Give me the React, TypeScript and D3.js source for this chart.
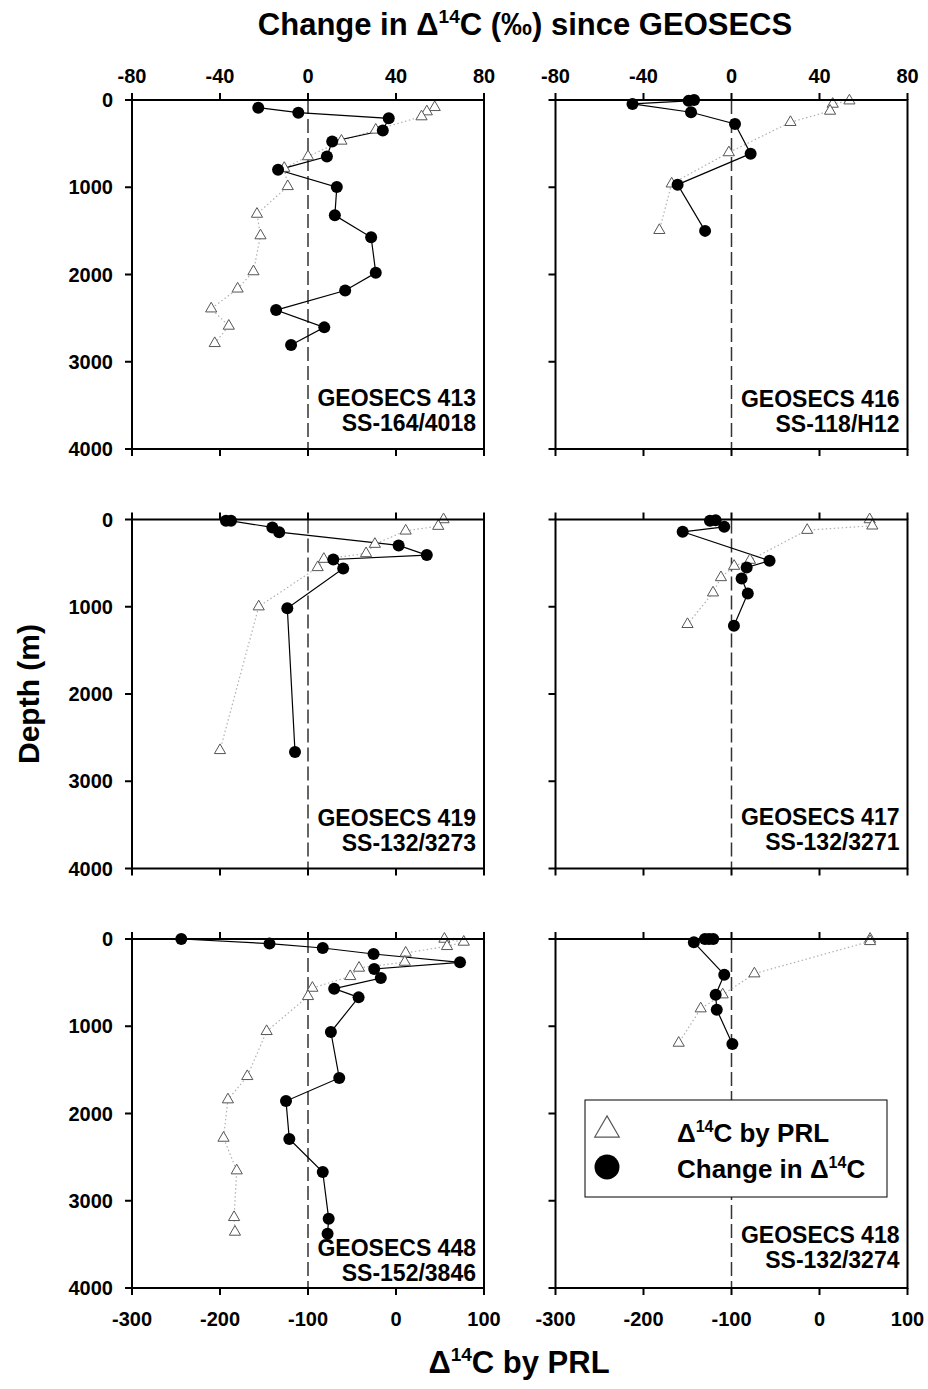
import React from "react";
import * as d3 from "d3";

// axis ticks
const chgTicks = [-80, -40, 0, 40, 80];
const prlTicks = [-300, -200, -100, 0, 100];
const depthTicks = [0, 1000, 2000, 3000, 4000];

// GEOSECS 413 / SS-164/4018
const s413PrlDepth = [84, 133, 190, 343, 469, 648, 781, 990, 1307, 1554, 1966, 2164, 2392, 2590, 2789];
const s413Prl = [44, 35, 29, -23, -62, -100, -127, -123, -158, -154, -162, -180, -210, -190, -206];
const s413ChgDepth = [88, 145, 210, 350, 476, 648, 800, 998, 1322, 1573, 1981, 2183, 2408, 2606, 2808];
const s413Chg = [-22.6, -4.4, 36.7, 34, 11, 8.6, -13.6, 13.1, 12.2, 28.7, 30.8, 16.9, -14.5, 7.4, -7.7];

// GEOSECS 416 / SS-118/H12
const s416PrlDepth = [8, 46, 126, 255, 602, 960, 1493];
const s416Prl = [34, 15, 12, -33, -103, -168, -182];
const s416ChgDepth = [0, 10, 45, 140, 275, 615, 970, 1500];
const s416Chg = [-17, -19.5, -45, -18.4, 1.6, 8.7, -24.5, -12];

// GEOSECS 419 / SS-132/3273
const s419PrlDepth = [0, 76, 130, 282, 389, 454, 549, 999, 2646];
const s419Prl = [54, 48, 11, -24, -34, -82, -89, -156, -200];
const s419ChgDepth = [15, 15, 91, 145, 297, 408, 458, 561, 1018, 2665];
const s419Chg = [-37.3, -35, -16.2, -13.1, 41.2, 54, 11.5, 16, -9.4, -5.9];

// GEOSECS 417 / SS-132/3271
const s417PrlDepth = [0, 72, 122, 465, 534, 664, 839, 1201];
const s417Prl = [57, 60, -14, -79, -97, -112, -121, -150];
const s417ChgDepth = [8, 15, 84, 141, 473, 549, 675, 847, 1217];
const s417Chg = [-7.2, -9.8, -3.3, -22.2, 17.3, 6.9, 4.6, 7.4, 1.1];

// GEOSECS 448 / SS-152/3846
const s448PrlDepth = [0, 34, 84, 160, 264, 332, 428, 562, 657, 1058, 1574, 1841, 2281, 2655, 3190, 3358];
const s448Prl = [55, 77, 58, 11, 10, -42, -52, -95, -100, -147, -169, -191, -196, -181, -184, -183];
const s448ChgDepth = [0, 53, 103, 172, 267, 344, 447, 569, 669, 1066, 1593, 1857, 2292, 2670, 3205, 3377];
const s448Chg = [-57.6, -17.5, 6.7, 29.8, 69.1, 30.1, 33.1, 11.9, 23, 10.4, 14.2, -10, -8.5, 6.7, 9.4, 8.9];

// GEOSECS 418 / SS-132/3274
const s418PrlDepth = [0, 27, 397, 638, 798, 1192];
const s418Prl = [57.5, 57.5, -74, -110, -135, -160];
const s418ChgDepth = [0, 0, 0, 38, 409, 638, 810, 1203];
const s418Chg = [-8.3, -10.2, -12.1, -17.1, -3.3, -7.2, -6.7, 0.4];

const stationNames = ["GEOSECS 413", "GEOSECS 416", "GEOSECS 419", "GEOSECS 417", "GEOSECS 448", "GEOSECS 418"];
const cruiseNames = ["SS-164/4018", "SS-118/H12", "SS-132/3273", "SS-132/3271", "SS-152/3846", "SS-132/3274"];

const FONT = "'Liberation Sans', Arial, sans-serif";
const W = 352;
const H = 349;
const colX = [132, 555.5];
const rowY = [100, 519.5, 939];

const panels = [
  { prlDepth: s413PrlDepth, prl: s413Prl, chgDepth: s413ChgDepth, chg: s413Chg, labelY: 306 },
  { prlDepth: s416PrlDepth, prl: s416Prl, chgDepth: s416ChgDepth, chg: s416Chg, labelY: 307 },
  { prlDepth: s419PrlDepth, prl: s419Prl, chgDepth: s419ChgDepth, chg: s419Chg, labelY: 306 },
  { prlDepth: s417PrlDepth, prl: s417Prl, chgDepth: s417ChgDepth, chg: s417Chg, labelY: 305 },
  { prlDepth: s448PrlDepth, prl: s448Prl, chgDepth: s448ChgDepth, chg: s448Chg, labelY: 317 },
  { prlDepth: s418PrlDepth, prl: s418Prl, chgDepth: s418ChgDepth, chg: s418Chg, labelY: 304 },
];

const xChg = d3.scaleLinear().domain([-80, 80]).range([0, W]);
const xPrl = d3.scaleLinear().domain([-300, 100]).range([0, W]);
const yDepth = d3.scaleLinear().domain([0, 4000]).range([0, H]);

const triSmall = d3.symbol(d3.symbolTriangle, 54)()!;
const triBig = d3.symbol(d3.symbolTriangle, 260)()!;

function Panel({ i }: { i: number }) {
  const p = panels[i];
  const row = Math.floor(i / 2);
  const col = i % 2;
  const prlPts: [number, number][] = p.prl.map((v, k) => [xPrl(v), yDepth(p.prlDepth[k])]);
  const chgPts: [number, number][] = p.chg.map((v, k) => [xChg(v), yDepth(p.chgDepth[k])]);
  const line = d3.line();
  return (
    <g transform={`translate(${colX[col]},${rowY[row]})`}>
      <line x1={xChg(0)} x2={xChg(0)} y1={0} y2={H} stroke="#333" strokeWidth={1.5} strokeDasharray="14,5" />
      <path d={line(prlPts)!} fill="none" stroke="#b0b0b0" strokeWidth={1.2} strokeDasharray="1.5,2.5" />
      <path d={line(chgPts)!} fill="none" stroke="#000" strokeWidth={1.2} />
      {prlPts.map((pt, k) => (
        <path key={"t" + k} d={triSmall} transform={`translate(${pt[0]},${pt[1]})`} fill="#fff" stroke="#555" strokeWidth={1} />
      ))}
      {chgPts.map((pt, k) => (
        <circle key={"c" + k} cx={pt[0]} cy={pt[1]} r={6} fill="#000" />
      ))}
      <rect x={0} y={0} width={W} height={H} fill="none" stroke="#000" strokeWidth={2} />
      {/* top ticks (change) */}
      {chgTicks.map((t) => (
        <g key={"ct" + t}>
          <line x1={xChg(t)} x2={xChg(t)} y1={0} y2={-7} stroke="#000" strokeWidth={2} />
          {row === 0 && (
            <text x={xChg(t)} y={-17} textAnchor="middle" fontSize={20} fontWeight="bold" fontFamily={FONT}>
              {t}
            </text>
          )}
        </g>
      ))}
      {/* bottom ticks (PRL) */}
      {prlTicks.map((t) => (
        <g key={"pt" + t}>
          <line x1={xPrl(t)} x2={xPrl(t)} y1={H} y2={H + 7} stroke="#000" strokeWidth={2} />
          {row === 2 && (
            <text x={xPrl(t)} y={H + 38} textAnchor="middle" fontSize={20} fontWeight="bold" fontFamily={FONT}>
              {t}
            </text>
          )}
        </g>
      ))}
      {/* depth ticks */}
      {depthTicks.map((t) => (
        <g key={"dt" + t}>
          <line x1={-7} x2={0} y1={yDepth(t)} y2={yDepth(t)} stroke="#000" strokeWidth={2} />
          {col === 0 && (
            <text x={-19} y={yDepth(t)} dy="0.36em" textAnchor="end" fontSize={20} fontWeight="bold" fontFamily={FONT}>
              {t}
            </text>
          )}
        </g>
      ))}
      <text x={W - 8} y={p.labelY} textAnchor="end" fontSize={23} fontWeight="bold" fontFamily={FONT}>
        {stationNames[i]}
      </text>
      <text x={W - 8} y={p.labelY + 25} textAnchor="end" fontSize={23} fontWeight="bold" fontFamily={FONT}>
        {cruiseNames[i]}
      </text>
    </g>
  );
}

export default function App() {
  return (
    <svg
      width={928}
      height={1389}
      style={{ position: "absolute", left: 0, top: 0, background: "#fff" }}
    >
      <rect x={0} y={0} width={928} height={1389} fill="#fff" />
      <text x={525} y={35} textAnchor="middle" fontSize={31} fontWeight="bold" fontFamily={FONT}>
        Change in Δ
        <tspan dy={-12} fontSize={19}>14</tspan>
        <tspan dy={12}>C (‰) since GEOSECS</tspan>
      </text>
      {panels.map((_, i) => (
        <Panel key={i} i={i} />
      ))}
      <text
        transform="translate(39,694) rotate(-90)"
        textAnchor="middle"
        fontSize={30}
        fontWeight="bold"
        fontFamily={FONT}
      >
        Depth (m)
      </text>
      <text x={519} y={1373} textAnchor="middle" fontSize={31} fontWeight="bold" fontFamily={FONT}>
        Δ<tspan dy={-12} fontSize={19}>14</tspan>
        <tspan dy={12}>C by PRL</tspan>
      </text>
      {/* legend */}
      <g>
        <rect x={585} y={1100} width={302} height={97} fill="#fff" stroke="#000" strokeWidth={1} />
        <path d={triBig} transform="translate(607,1130)" fill="#fff" stroke="#555" strokeWidth={1.2} />
        <circle cx={607} cy={1167} r={12.5} fill="#000" />
        <text x={677} y={1142} fontSize={26} fontWeight="bold" fontFamily={FONT}>
          Δ<tspan dy={-10} fontSize={16}>14</tspan>
          <tspan dy={10}>C by PRL</tspan>
        </text>
        <text x={677} y={1178} fontSize={26} fontWeight="bold" fontFamily={FONT}>
          Change in Δ<tspan dy={-10} fontSize={16}>14</tspan>
          <tspan dy={10}>C</tspan>
        </text>
      </g>
    </svg>
  );
}
